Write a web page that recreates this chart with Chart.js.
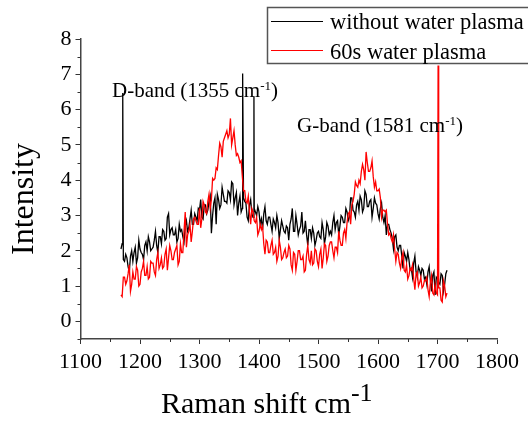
<!DOCTYPE html>
<html>
<head>
<meta charset="utf-8">
<script src="https://cdn.jsdelivr.net/npm/chart.js@4.4.1/dist/chart.umd.min.js"></script>
<style>
  html, body { margin: 0; padding: 0; background: #fff; }
  canvas { display: block; }
</style>
</head>
<body>
<canvas id="raman-chart" width="528" height="423"></canvas>
<script>
// Raman shift grid (cm-1), even channels
const ramanShift = [
  1168,1172,1176,1180,1184,1188,1192,1196,1200,1204,
  1208,1212,1216,1220,1224,1228,1232,1236,1240,1244,
  1248,1252,1256,1260,1264,1268,1272,1276,1280,1284,
  1288,1292,1296,1300,1304,1308,1312,1316,1320,1324,
  1328,1332,1336,1340,1344,1348,1352,1356,1360,1364,
  1368,1372,1376,1380,1384,1388,1392,1396,1400,1404,
  1408,1412,1416,1420,1424,1428,1432,1436,1440,1444,
  1448,1452,1456,1460,1464,1468,1472,1476,1480,1484,
  1488,1492,1496,1500,1504,1508,1512,1516,1520,1524,
  1528,1532,1536,1540,1544,1548,1552,1556,1560,1564,
  1568,1572,1576,1580,1584,1588,1592,1596,1600,1604,
  1608,1612,1616,1620,1624,1628,1632,1636,1640,1644,
  1648,1652,1656,1660,1664,1668,1672,1676,1680,1684,
  1688,1692,1696,1700,1704,1708,1712,1716
];

// intensity, without water plasma (black)
const withoutPlasma = [
  2.05,1.75,1.9,1.55,1.85,1.7,2.1,1.8,2.05,1.9,
  2.15,2.0,2.25,2.05,2.3,2.15,2.4,2.2,2.55,2.35,
  3.05,2.6,2.45,2.6,2.35,2.55,2.4,2.7,2.55,2.9,
  2.75,3.05,2.85,3.15,2.95,3.3,3.05,3.4,2.5,3.35,
  2.75,3.45,3.3,3.6,3.4,3.7,3.45,3.9,3.5,3.0,
  3.55,3.2,3.4,2.95,3.3,3.05,3.2,3.0,3.1,2.9,
  3.05,2.85,2.95,2.75,2.9,2.65,2.8,2.6,2.7,2.5,
  2.65,2.75,3.2,2.55,2.75,2.6,3.1,2.55,2.45,2.6,
  2.35,2.5,2.3,2.55,2.35,2.6,2.4,2.7,2.55,2.8,
  2.6,2.85,2.7,2.95,2.8,3.1,2.95,3.5,3.1,3.3,
  3.15,3.45,3.2,3.6,3.25,3.45,3.2,3.35,3.05,3.2,
  2.95,3.0,2.75,2.6,2.35,2.4,2.1,2.15,1.85,1.95,
  1.7,1.75,1.5,1.65,1.4,1.55,1.3,1.45,1.25,1.4,
  1.15,1.3,0.75,1.2,1.05,1.3,1.05,1.45
];

// intensity, 60s water plasma (red)
const waterPlasma60s = [
  0.75,1.25,1.05,1.35,0.85,1.4,1.2,1.45,1.05,1.5,
  1.3,1.55,1.25,1.65,1.4,1.75,1.5,1.8,1.55,2.05,
  1.8,2.0,1.75,2.05,1.6,2.2,1.95,3.1,2.45,2.75,
  2.55,2.95,2.75,3.2,2.9,3.3,3.05,3.6,3.45,4.0,
  4.35,4.7,4.95,5.1,5.3,5.2,5.75,5.2,5.0,4.75,
  4.5,4.1,3.7,3.35,3.1,3.2,2.85,2.95,2.55,2.6,
  2.2,2.3,1.95,2.15,1.9,2.1,1.85,2.1,1.8,2.05,
  1.85,2.05,1.45,1.9,1.7,2.0,1.75,1.4,1.9,1.75,
  2.0,1.65,2.0,1.55,2.05,1.8,2.15,1.85,2.25,2.0,
  2.1,1.95,2.3,2.15,2.6,2.8,3.1,3.3,3.6,3.85,
  4.0,4.25,4.3,4.8,4.25,4.35,4.1,3.95,3.7,3.5,
  3.15,3.1,2.75,2.5,2.25,2.05,1.95,1.65,1.8,1.45,
  1.6,1.3,1.45,1.2,1.35,1.0,1.25,1.0,1.15,0.9,
  1.1,0.8,1.05,0.75,0.95,0.55,1.0,0.8
];

// in-between channels
const ramanShiftMid = [
  1170,1174,1178,1182,1186,1190,1194,1198,1202,1206,
  1210,1214,1218,1222,1226,1230,1234,1238,1242,1246,
  1250,1254,1258,1262,1266,1270,1274,1278,1282,1286,
  1290,1294,1298,1302,1306,1310,1314,1318,1322,1326,
  1330,1334,1338,1342,1346,1350,1354,1358,1362,1366,
  1370,1374,1378,1382,1386,1390,1394,1398,1402,1406,
  1410,1414,1418,1422,1426,1430,1434,1438,1442,1446,
  1450,1454,1458,1462,1466,1470,1474,1478,1482,1486,
  1490,1494,1498,1502,1506,1510,1514,1518,1522,1526,
  1530,1534,1538,1542,1546,1550,1554,1558,1562,1566,
  1570,1574,1578,1582,1586,1590,1594,1598,1602,1606,
  1610,1614,1618,1622,1626,1630,1634,1638,1642,1646,
  1650,1654,1658,1662,1666,1670,1674,1678,1682,1686,
  1690,1694,1698,1702,1706,1710,1714
];

const withoutPlasmaMid = [
  2.2,1.7,1.8,1.4,2.0,1.95,1.65,2.3,1.95,1.75,
  2.25,2.4,2.0,2.1,2.55,1.95,2.4,2.6,2.3,2.95,
  2.45,2.65,2.45,2.25,2.75,2.6,2.25,2.85,2.65,3.15,
  2.75,2.95,3.2,3.45,2.9,3.3,3.15,3.55,3.0,3.5,
  3.6,3.2,3.8,3.4,3.35,3.65,3.95,3.3,3.65,3.35,
  3.1,3.5,3.35,2.85,3.45,2.95,3.1,3.25,2.75,2.6,
  3.25,2.75,2.95,2.55,2.8,3.0,2.35,2.85,2.55,2.7,
  2.3,2.9,2.55,3.0,2.45,2.7,2.5,2.85,2.15,2.6,
  2.65,2.15,2.5,2.4,2.8,2.2,2.8,2.45,2.45,3.0,
  2.8,2.45,3.0,2.8,3.2,2.85,3.5,3.15,2.95,3.4,
  3.55,3.1,3.7,3.25,3.4,2.95,3.5,3.3,2.9,3.35,
  2.8,2.45,2.75,2.5,2.05,2.45,2.0,2.15,1.5,1.85,
  1.95,1.45,1.25,1.85,1.25,1.45,1.5,1.2,1.05,1.55,
  0.85,1.4,1.25,1.1,1.35,0.85,1.35
];

const waterPlasma60sMid = [
  0.7,1.25,1.15,1.6,1.05,1.2,1.55,1.0,1.4,1.7,
  1.3,1.2,1.7,1.65,1.3,1.95,1.6,1.5,1.9,1.45,
  2.15,1.75,1.95,2.15,1.7,1.95,2.55,2.1,2.55,2.25,
  2.9,2.85,2.75,2.65,3.4,3.1,3.4,3.2,4.05,4.05,
  4.3,5.05,4.65,5.2,5.4,5.3,5.0,5.4,4.7,4.65,
  4.55,3.7,3.4,3.55,2.75,3.1,2.8,2.45,2.75,2.7,
  1.9,2.25,1.95,2.3,1.95,1.7,2.3,1.75,1.95,1.8,
  2.15,1.6,1.95,1.45,2.0,1.75,1.85,1.45,2.15,1.65,
  1.6,2.05,1.7,1.9,1.5,2.2,1.7,2.15,2.25,1.8,
  2.1,2.55,2.15,2.5,2.35,3.05,2.75,3.4,3.95,3.8,
  3.9,4.45,4.0,4.5,4.25,4.55,3.8,3.7,3.75,2.95,
  3.15,3.15,2.45,2.35,2.45,1.7,1.9,1.5,1.95,1.4,
  1.2,1.5,1.6,0.9,1.4,1.1,0.95,1.15,1.25,0.7,
  1.3,0.75,0.8,0.95,0.6,1.15,0.7
];

// single-channel spikes in the spectra
const blackSpikeShift = [1171, 1372.5, 1391.5];
const blackSpikeHeight = [6.47, 7.02, 6.38];
const redSpikeShift = [1701];
const redSpikeHeight = [7.25];

const seriesNames = ['without water plasma', '60s water plasma'];
const xTickLabels = [1100, 1200, 1300, 1400, 1500, 1600, 1700, 1800];
const yTickLabels = [0, 1, 2, 3, 4, 5, 6, 7, 8];
const xMinorTicks = [1150, 1250, 1350, 1450, 1550, 1650, 1750];
const yMinorTicks = [-0.5, 0.5, 1.5, 2.5, 3.5, 4.5, 5.5, 6.5, 7.5];

const SERIF = '"Liberation Serif", "Times New Roman", serif';

// merge even channels, in-between channels and spikes into one sorted series
function toPoints(xs, ys, midXs, midYs, spikeXs, spikeYs) {
  const pts = xs.map((x, i) => ({ x: x, y: ys[i] }));
  midXs.forEach((x, i) => pts.push({ x: x, y: midYs[i] }));
  spikeXs.forEach((x, i) => pts.push({ x: x, y: spikeYs[i] }));
  return pts.sort((a, b) => a.x - b.x);
}

// text with a raised part, e.g. cm-1
function drawSup(ctx, parts, x, y) {
  let cx = x;
  parts.forEach(p => {
    ctx.font = p.size + 'px ' + SERIF;
    ctx.fillText(p.text, cx, y - (p.rise || 0));
    cx += ctx.measureText(p.text).width;
  });
}

const decorations = {
  id: 'decorations',
  afterDraw(chart) {
    const ctx = chart.ctx;
    const xs = chart.scales.x;
    const ys = chart.scales.y;
    const area = chart.chartArea;

    // minor ticks
    ctx.save();
    ctx.strokeStyle = '#333';
    ctx.lineWidth = 1;
    ctx.beginPath();
    xMinorTicks.forEach(v => {
      const px = Math.round(xs.getPixelForValue(v)) + 0.5;
      ctx.moveTo(px, area.bottom);
      ctx.lineTo(px, area.bottom + 3);
    });
    yMinorTicks.forEach(v => {
      const py = Math.round(ys.getPixelForValue(v)) + 0.5;
      ctx.moveTo(area.left - 3, py);
      ctx.lineTo(area.left, py);
    });
    ctx.stroke();

    ctx.fillStyle = '#000';
    ctx.textBaseline = 'alphabetic';
    ctx.textAlign = 'left';

    // band annotations
    drawSup(ctx, [
      { text: 'D-band (1355 cm', size: 21 },
      { text: '-1', size: 13, rise: 7 },
      { text: ')', size: 21 }
    ], 112, 97);
    drawSup(ctx, [
      { text: 'G-band (1581 cm', size: 21 },
      { text: '-1', size: 13, rise: 7 },
      { text: ')', size: 21 }
    ], 297, 132);

    // axis titles
    drawSup(ctx, [
      { text: 'Raman shift cm', size: 30 },
      { text: '-1', size: 26, rise: 12 }
    ], 161, 413);

    ctx.save();
    ctx.translate(33, 199);
    ctx.rotate(-Math.PI / 2);
    ctx.textAlign = 'center';
    ctx.font = '32px ' + SERIF;
    ctx.fillText('Intensity', 0, 0);
    ctx.restore();

    // legend box
    ctx.fillStyle = '#fff';
    ctx.fillRect(267.5, 7.5, 280, 56);
    ctx.strokeStyle = '#555';
    ctx.lineWidth = 1.5;
    ctx.strokeRect(267.5, 7.5, 280, 56);

    ctx.lineWidth = 1;
    ctx.strokeStyle = '#000';
    ctx.beginPath();
    ctx.moveTo(271, 21.5);
    ctx.lineTo(323, 21.5);
    ctx.stroke();
    ctx.strokeStyle = '#ff0000';
    ctx.beginPath();
    ctx.moveTo(271, 50.5);
    ctx.lineTo(323, 50.5);
    ctx.stroke();

    ctx.fillStyle = '#000';
    ctx.font = '22.5px ' + SERIF;
    ctx.fillText(seriesNames[0], 330, 28.5);
    ctx.fillText(seriesNames[1], 330, 58.5);
    ctx.restore();
  }
};

const chart = new Chart(document.getElementById('raman-chart'), {
  type: 'line',
  data: {
    datasets: [
      {
        label: seriesNames[0],
        data: toPoints(ramanShift, withoutPlasma, ramanShiftMid, withoutPlasmaMid,
          blackSpikeShift, blackSpikeHeight),
        borderColor: '#000',
        borderWidth: 1.3,
        pointRadius: 0,
        tension: 0,
        order: 1
      },
      {
        label: seriesNames[1],
        data: toPoints(ramanShift, waterPlasma60s, ramanShiftMid, waterPlasma60sMid,
          redSpikeShift, redSpikeHeight),
        borderColor: '#ff0000',
        borderWidth: 1.3,
        pointRadius: 0,
        tension: 0,
        order: 0
      }
    ]
  },
  options: {
    responsive: false,
    animation: false,
    devicePixelRatio: 1,
    parsing: false,
    layout: { padding: { left: 0, right: 31, top: 39, bottom: 0 } },
    plugins: {
      legend: { display: false },
      tooltip: { enabled: false }
    },
    scales: {
      x: {
        type: 'linear',
        min: 1100,
        max: 1800,
        afterBuildTicks: axis => { axis.ticks = xTickLabels.map(v => ({ value: v })); },
        afterFit: axis => { axis.height = 84; },
        grid: { drawOnChartArea: false, drawTicks: true, tickLength: 5, color: '#333' },
        border: { display: true, color: '#444', width: 1.5 },
        ticks: {
          color: '#000',
          padding: 5,
          maxRotation: 0,
          autoSkip: false,
          callback: v => String(v),
          font: { family: SERIF, size: 22 }
        }
      },
      y: {
        type: 'linear',
        min: -0.5,
        max: 8,
        afterBuildTicks: axis => { axis.ticks = yTickLabels.map(v => ({ value: v })); },
        afterFit: axis => { axis.width = 80.5; },
        grid: { drawOnChartArea: false, drawTicks: true, tickLength: 5, color: '#333' },
        border: { display: true, color: '#444', width: 1.5 },
        ticks: {
          color: '#000',
          padding: 4,
          autoSkip: false,
          callback: v => String(v),
          font: { family: SERIF, size: 22 }
        }
      }
    }
  },
  plugins: [decorations]
});
</script>
</body>
</html>
